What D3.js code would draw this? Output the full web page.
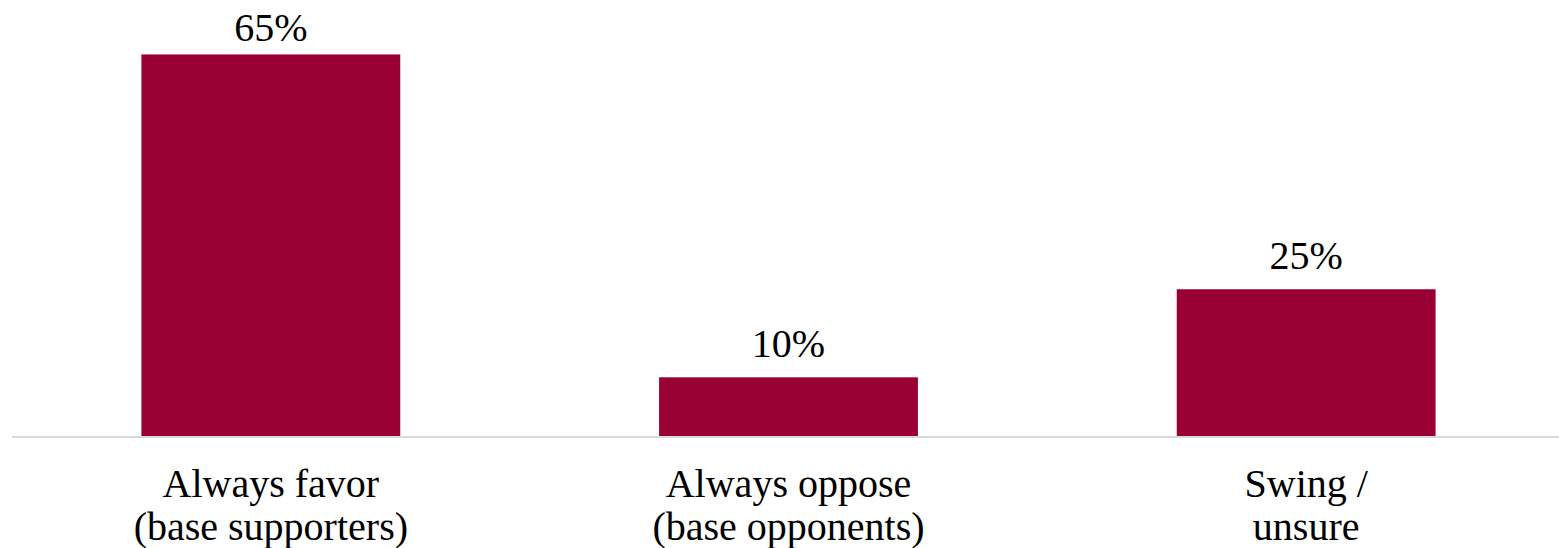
<!DOCTYPE html>
<html>
<head>
<meta charset="utf-8">
<script src="https://cdn.jsdelivr.net/npm/d3@7"></script>
<style>
  html, body { margin: 0; padding: 0; background: #ffffff; }
  svg { display: block; }
</style>
</head>
<body>
<svg id="chart" width="1559" height="548"></svg>
<script>
// Share of voters by stance
const categories = ["Always favor\n(base supporters)", "Always oppose\n(base opponents)", "Swing /\nunsure"];
const values = [65, 10, 25];
const valueLabels = ["65%", "10%", "25%"];

const width = 1559, height = 548;
const baseY = 436;
const font = "'Liberation Serif', 'Times New Roman', serif";
const barColor = "#990033";

const svg = d3.select("#chart");

const x = d3.scaleBand()
  .domain(categories)
  .range([12, 1565])
  .paddingInner(0.5)
  .paddingOuter(0.25);

const y = d3.scaleLinear()
  .domain([0, 70])
  .range([baseY, baseY - 70 * 5.87]);

// Bars
svg.append("g")
  .selectAll("rect")
  .data(values)
  .join("rect")
  .attr("x", (d, i) => x(categories[i]))
  .attr("y", d => y(d))
  .attr("width", x.bandwidth())
  .attr("height", d => y(0) - y(d))
  .attr("fill", barColor);

// Baseline
svg.append("line")
  .attr("x1", 12).attr("x2", width)
  .attr("y1", baseY + 1).attr("y2", baseY + 1)
  .attr("stroke", "#d9d9d9")
  .attr("stroke-width", 2);

// Value labels above bars (kept inside the top edge)
svg.append("g")
  .selectAll("text")
  .data(values)
  .join("text")
  .attr("x", (d, i) => x(categories[i]) + x.bandwidth() / 2)
  .attr("y", d => Math.max(y(d) - 20, 41))
  .attr("text-anchor", "middle")
  .attr("font-family", font)
  .attr("font-size", 40)
  .attr("fill", "#000")
  .text((d, i) => valueLabels[i]);

// Category labels
const cat = svg.append("g")
  .selectAll("text")
  .data(categories)
  .join("text")
  .attr("text-anchor", "middle")
  .attr("font-family", font)
  .attr("font-size", 40)
  .attr("fill", "#000")
  .attr("transform", d => `translate(${x(d) + x.bandwidth() / 2},497)`);

cat.selectAll("tspan")
  .data(d => d.split("\n"))
  .join("tspan")
  .attr("x", 0)
  .attr("y", (d, i) => i * 43)
  .text(d => d);
</script>
</body>
</html>
